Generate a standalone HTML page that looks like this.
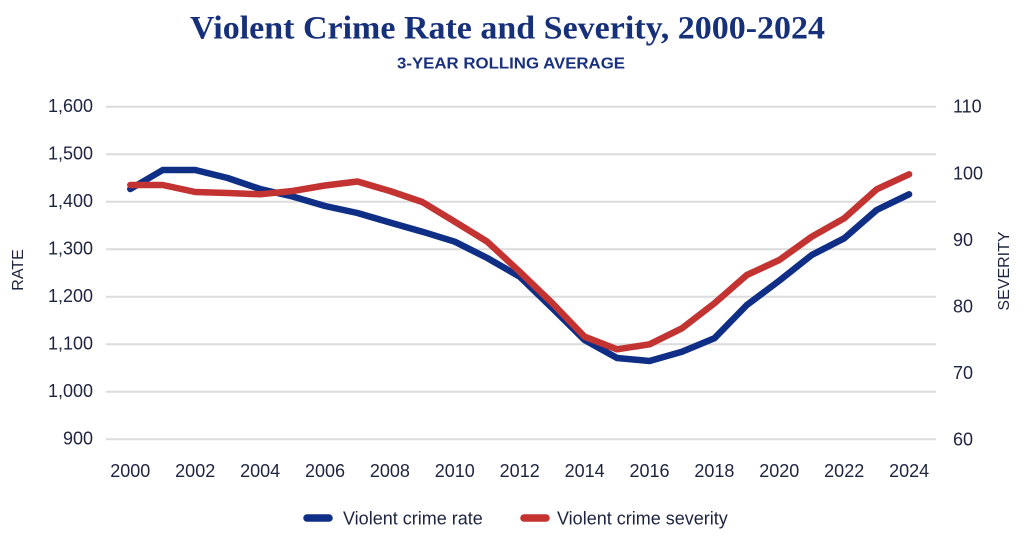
<!DOCTYPE html>
<html>
<head>
<meta charset="utf-8">
<style>
  html, body { margin:0; padding:0; background:#ffffff; }
  svg { display:block; }
  .tick { font-family:"Liberation Sans", sans-serif; font-size:18px; fill:#1e2440; }
  .axt { font-family:"Liberation Sans", sans-serif; font-size:16px; fill:#1e2440; }
</style>
</head>
<body>
<svg width="1024" height="543" viewBox="0 0 1024 543" xmlns="http://www.w3.org/2000/svg">
  <rect x="0" y="0" width="1024" height="543" fill="#ffffff"/>

  <!-- Title -->
  <text x="190" y="38.5" textLength="635" lengthAdjust="spacingAndGlyphs" font-family="Liberation Serif, serif" font-weight="bold" font-size="33" fill="#16307a">Violent Crime Rate and Severity, 2000-2024</text>
  <text x="397" y="68.3" textLength="228" lengthAdjust="spacingAndGlyphs" font-family="Liberation Sans, sans-serif" font-weight="bold" font-size="16" fill="#1a3180">3-YEAR ROLLING AVERAGE</text>

  <!-- Gridlines -->
  <g stroke="#dcdcdc" stroke-width="2">
    <line x1="106" y1="106.7" x2="936" y2="106.7"/>
    <line x1="106" y1="154.2" x2="936" y2="154.2"/>
    <line x1="106" y1="201.7" x2="936" y2="201.7"/>
    <line x1="106" y1="249.2" x2="936" y2="249.2"/>
    <line x1="106" y1="296.7" x2="936" y2="296.7"/>
    <line x1="106" y1="344.2" x2="936" y2="344.2"/>
    <line x1="106" y1="391.7" x2="936" y2="391.7"/>
    <line x1="106" y1="439.2" x2="936" y2="439.2"/>
  </g>

  <!-- Left tick labels -->
  <g class="tick" text-anchor="end">
    <text x="93" y="112.2">1,600</text>
    <text x="93" y="159.7">1,500</text>
    <text x="93" y="207.2">1,400</text>
    <text x="93" y="254.7">1,300</text>
    <text x="93" y="302.2">1,200</text>
    <text x="93" y="349.7">1,100</text>
    <text x="93" y="397.2">1,000</text>
    <text x="93" y="444.7">900</text>
  </g>

  <!-- Right tick labels -->
  <g class="tick" text-anchor="start">
    <text x="953" y="112.7">110</text>
    <text x="953" y="179.3">100</text>
    <text x="953" y="245.9">90</text>
    <text x="953" y="312.5">80</text>
    <text x="953" y="379.1">70</text>
    <text x="953" y="445.7">60</text>
  </g>

  <!-- X tick labels -->
  <g class="tick" text-anchor="middle">
    <text x="130.3" y="477">2000</text>
    <text x="195.2" y="477">2002</text>
    <text x="260.1" y="477">2004</text>
    <text x="325.0" y="477">2006</text>
    <text x="389.9" y="477">2008</text>
    <text x="454.8" y="477">2010</text>
    <text x="519.7" y="477">2012</text>
    <text x="584.6" y="477">2014</text>
    <text x="649.5" y="477">2016</text>
    <text x="714.4" y="477">2018</text>
    <text x="779.3" y="477">2020</text>
    <text x="844.2" y="477">2022</text>
    <text x="909.1" y="477">2024</text>
  </g>

  <!-- Axis titles -->
  <text class="axt" transform="translate(23,270) rotate(-90)" text-anchor="middle">RATE</text>
  <text class="axt" transform="translate(1009,271) rotate(-90)" text-anchor="middle">SEVERITY</text>

  <!-- Series: rate (blue) -->
  <polyline fill="none" stroke="#0f2f86" stroke-width="6.5" stroke-linejoin="round" stroke-linecap="round"
    points="130.3,189 162.75,170 195.2,170 227.65,178 260.1,189 292.55,196.5 325,206 357.45,213 389.9,222.5 422.35,231.7 454.8,241.7 487.25,258 519.7,276.7 552.15,308 584.6,340 617.05,358 649.5,361 681.95,351.7 714.4,338.3 746.85,305 779.3,280.7 811.75,255 844.2,238.3 876.65,210 909.1,194.3"/>

  <!-- Series: severity (red) -->
  <polyline fill="none" stroke="#c33331" stroke-width="6.5" stroke-linejoin="round" stroke-linecap="round"
    points="130.3,185 162.75,185 195.2,192 227.65,193 260.1,194.3 292.55,191 325,185.5 357.45,181.5 389.9,191 422.35,202 454.8,221.7 487.25,241.7 519.7,271.7 552.15,303 584.6,336.7 617.05,349.3 649.5,344.3 681.95,328.3 714.4,303.3 746.85,275 779.3,260 811.75,236.7 844.2,218.3 876.65,189.3 909.1,174.3"/>

  <!-- Legend -->
  <line x1="307" y1="518" x2="329" y2="518" stroke="#0f2f86" stroke-width="7.5" stroke-linecap="round"/>
  <text x="343" y="524.3" font-family="Liberation Sans, sans-serif" font-size="18" fill="#1e2440">Violent crime rate</text>
  <line x1="524" y1="518" x2="546" y2="518" stroke="#c33331" stroke-width="7.5" stroke-linecap="round"/>
  <text x="557" y="524.3" font-family="Liberation Sans, sans-serif" font-size="18" fill="#1e2440">Violent crime severity</text>
</svg>
</body>
</html>
